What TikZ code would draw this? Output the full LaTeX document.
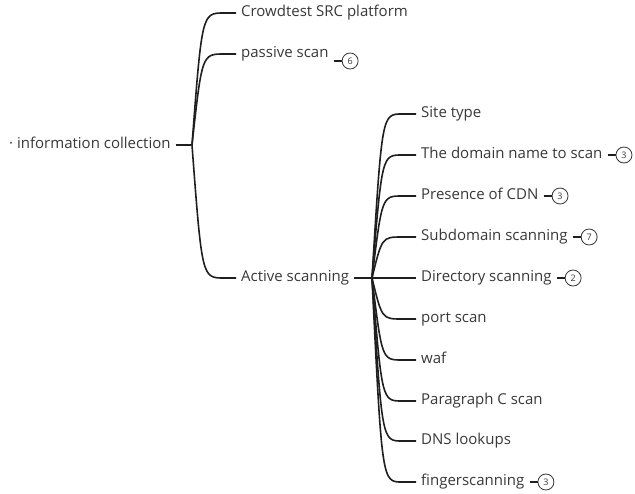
\documentclass[tikz,border=0pt]{standalone}
\usepackage{fontspec}
\setmainfont{Open Sans}
\usetikzlibrary{calc, positioning}

\begin{document}
\begin{tikzpicture}[
  x=1pt, y=-1pt,
  font=\fontsize{15}{17}\selectfont,
  topic/.style={anchor=west, inner xsep=5pt, inner ysep=1pt,
    text height=1.6ex, text depth=.45ex, text=black!78},
  branch/.style={line width=1.6pt, black!88},
  badge/.style={circle, draw=black!80, line width=0.8pt, minimum size=16pt,
    inner sep=0pt, text=black!78, font=\fontsize{9}{9}\selectfont},
  badgeline/.style={line width=1.3pt, black!88}
]

\useasboundingbox (0,0) rectangle (635,493);

% ------------------- Root ------------------- %
\node[topic] (info) at (4,145) {· information collection};
\coordinate (rootj) at (192,145);
\draw[branch] (info.east) -- (rootj);

% ------------------- First level ------------------- %
\foreach \name/\ypos/\label in {crowd/13/Crowdtest SRC platform,
                                passive/54/passive scan,
                                active/278/Active scanning} {
  \node[topic] (\name) at (236,\ypos) {\label};
  \draw[branch] (rootj) .. controls ($(rootj |- \name.west)+(10,0)$)
    and ($(rootj |- \name.west)+(10,0)$) .. ($(\name.west)+(-12,0)$) -- (\name.west);
}

% badge of passive scan sits a bit lower
\node[badge, right=8pt of passive, yshift=-7pt] (passive-badge) {6};
\draw[badgeline] (passive.east |- passive-badge.west) -- (passive-badge.west);

% ------------------- Active scanning ------------------- %
\coordinate (actj) at (372,278);
\draw[branch] (active.east) -- (actj);

\foreach \name/\ypos/\label in {site/114/Site type,
                                domain/155/The domain name to scan,
                                cdn/196/Presence of CDN,
                                subdomain/237/Subdomain scanning,
                                directory/278/Directory scanning,
                                port/319/port scan,
                                waf/360/waf,
                                csegment/401/Paragraph C scan,
                                dns/441/DNS lookups,
                                finger/482/fingerscanning} {
  \node[topic] (\name) at (416,\ypos) {\label};
  \draw[branch] (actj) .. controls ($(actj |- \name.west)+(10,0)$)
    and ($(actj |- \name.west)+(10,0)$) .. ($(\name.west)+(-14,0)$) -- (\name.west);
}

% count badges
\foreach \name/\num in {domain/3, cdn/3, subdomain/7, directory/2, finger/3} {
  \node[badge, right=8pt of \name] (\name-badge) {\num};
  \draw[badgeline] (\name) -- (\name-badge);
}

\end{tikzpicture}
\end{document}
